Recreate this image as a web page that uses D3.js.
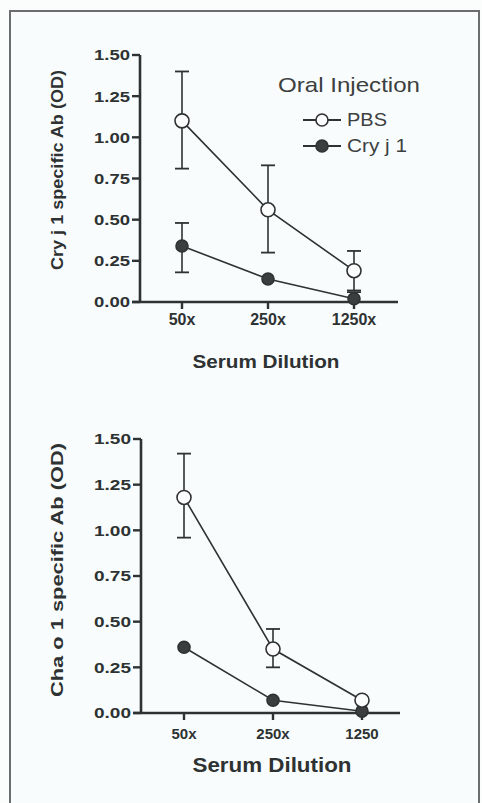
<!DOCTYPE html>
<html><head><meta charset="utf-8">
<script src="https://cdn.jsdelivr.net/npm/d3@7"></script>
<style>
html,body{margin:0;padding:0;background:#fff;}
svg{display:block;}
</style></head>
<body>
<script>
// ---------- data ----------
const categories = ["50x", "250x", "1250x"];
const topTickLabels = ["50x", "250x", "1250x"];
const bottomTickLabels = ["50x", "250x", "1250"];
const yTickValues = [0, 0.25, 0.5, 0.75, 1.0, 1.25, 1.5];
const seriesNames = ["PBS", "Cry j 1"];

const topPBS   = [1.10, 0.56, 0.19];
const topPBSLo = [0.81, 0.30, 0.07];
const topPBSHi = [1.40, 0.83, 0.31];
const topCry   = [0.34, 0.14, 0.02];
const topCryLo = [0.18, null, 0.00];
const topCryHi = [0.48, null, 0.06];

const botPBS   = [1.18, 0.35, 0.07];
const botPBSLo = [0.96, 0.25, null];
const botPBSHi = [1.42, 0.46, null];
const botCry   = [0.36, 0.07, 0.01];
const botCryLo = [null, null, null];
const botCryHi = [null, null, null];

// ---------- drawing ----------
const W = 482, H = 803;
const svg = d3.select("body").append("svg").attr("width", W).attr("height", H);
svg.append("rect").attr("x", 0).attr("y", 0).attr("width", W).attr("height", H).attr("fill", "#fbfdfd");
svg.append("rect").attr("x", 10).attr("y", 11).attr("width", 469).attr("height", 800)
  .attr("fill", "#f8fcfc").attr("stroke", "#6a6e6e").attr("stroke-width", 2);

const FONT = "'Liberation Sans', Arial, Helvetica, sans-serif";
const INK = "#2e3232";

function txt(g, x, y, s, size, len, opts = {}) {
  const t = g.append("text").attr("x", x).attr("y", y).text(s)
    .attr("font-family", FONT).attr("font-size", size)
    .attr("font-weight", opts.weight || "bold")
    .attr("fill", opts.fill || INK)
    .attr("text-anchor", opts.anchor || "middle");
  if (len) t.attr("textLength", len).attr("lengthAdjust", "spacingAndGlyphs");
  if (opts.rotate) t.attr("transform", `rotate(-90 ${x} ${y})`);
  return t;
}

function panel(cfg) {
  const g = svg.append("g");
  const x = d3.scalePoint().domain(categories).range([cfg.cx0, cfg.cx1]);
  const y = d3.scaleLinear().domain([0, 1.5]).range([cfg.yBottom, cfg.yTop]);

  // axes
  g.append("line").attr("x1", cfg.ax).attr("x2", cfg.ax).attr("y1", y(1.5)).attr("y2", y(0))
    .attr("stroke", INK).attr("stroke-width", 2.6);
  g.append("line").attr("x1", cfg.ax - 8).attr("x2", cfg.axEnd).attr("y1", y(0)).attr("y2", y(0))
    .attr("stroke", INK).attr("stroke-width", 2.6);
  yTickValues.forEach(v => {
    g.append("line").attr("x1", cfg.ax - 8).attr("x2", cfg.ax).attr("y1", y(v)).attr("y2", y(v))
      .attr("stroke", INK).attr("stroke-width", 2.4);
    txt(g, cfg.ax - 10, y(v) + cfg.tickFs * 0.36, v.toFixed(2), cfg.tickFs, cfg.yLabW, {anchor: "end"});
  });
  categories.forEach((c, i) => {
    g.append("line").attr("x1", x(c)).attr("x2", x(c)).attr("y1", y(0)).attr("y2", y(0) + 7)
      .attr("stroke", INK).attr("stroke-width", 2.4);
    txt(g, x(c), cfg.xLabY, cfg.xLabels[i], cfg.xTickFs, null);
  });
  txt(g, cfg.titleCx, cfg.titleY, "Serum Dilution", cfg.titleFs, cfg.titleW);
  txt(g, cfg.yTitleX, cfg.yTitleCy, cfg.yTitle, cfg.yTitleFs, cfg.yTitleLen, {rotate: true});

  const line = d3.line().x((d, i) => x(categories[i])).y(d => y(d));
  const series = [
    {vals: cfg.cry, lo: cfg.cryLo, hi: cfg.cryHi, fill: "#3a3e3e", r: 6},
    {vals: cfg.pbs, lo: cfg.pbsLo, hi: cfg.pbsHi, fill: "#fbfdfd", r: 7}
  ];
  series.forEach(s => {
    s.vals.forEach((v, i) => {
      if (s.lo[i] == null) return;
      const cx = x(categories[i]);
      g.append("line").attr("x1", cx).attr("x2", cx).attr("y1", y(s.hi[i])).attr("y2", y(s.lo[i]))
        .attr("stroke", INK).attr("stroke-width", 1.6);
      [s.hi[i], s.lo[i]].forEach(e => g.append("line").attr("x1", cx - 7).attr("x2", cx + 7)
        .attr("y1", y(e)).attr("y2", y(e)).attr("stroke", INK).attr("stroke-width", 1.8));
    });
  });
  series.forEach(s => {
    g.append("path").datum(s.vals).attr("d", line).attr("fill", "none")
      .attr("stroke", INK).attr("stroke-width", 1.6);
    s.vals.forEach((v, i) => g.append("circle").attr("cx", x(categories[i])).attr("cy", y(v))
      .attr("r", s.r).attr("fill", s.fill).attr("stroke", INK).attr("stroke-width", 1.6));
  });
  return g;
}

panel({
  cx0: 182, cx1: 354, yBottom: 302, yTop: 55, ax: 140, axEnd: 398,
  tickFs: 15, yLabW: 36, xTickFs: 16, xLabY: 325, xLabels: topTickLabels,
  titleCx: 266, titleY: 368, titleFs: 18, titleW: 147,
  yTitle: "Cry j 1 specific Ab (OD)", yTitleX: 63, yTitleCy: 170, yTitleFs: 16, yTitleLen: 200,
  pbs: topPBS, pbsLo: topPBSLo, pbsHi: topPBSHi, cry: topCry, cryLo: topCryLo, cryHi: topCryHi
});

panel({
  cx0: 184, cx1: 362, yBottom: 713, yTop: 439, ax: 141, axEnd: 400,
  tickFs: 15, yLabW: 37, xTickFs: 15, xLabY: 739, xLabels: bottomTickLabels,
  titleCx: 272, titleY: 772, titleFs: 20, titleW: 159,
  yTitle: "Cha o 1 specific Ab (OD)", yTitleX: 63, yTitleCy: 570, yTitleFs: 17, yTitleLen: 254,
  pbs: botPBS, pbsLo: botPBSLo, pbsHi: botPBSHi, cry: botCry, cryLo: botCryLo, cryHi: botCryHi
});

// legend
const lg = svg.append("g");
txt(lg, 278, 92, "Oral Injection", 21, 142, {weight: "normal", anchor: "start", fill: "#3c4040"});
seriesNames.forEach((n, i) => {
  const ly = 120 + i * 26;
  lg.append("line").attr("x1", 303).attr("x2", 341).attr("y1", ly).attr("y2", ly)
    .attr("stroke", INK).attr("stroke-width", 1.8);
  lg.append("circle").attr("cx", 322).attr("cy", ly).attr("r", 6)
    .attr("fill", i === 0 ? "#fbfdfd" : "#3a3e3e").attr("stroke", INK).attr("stroke-width", 1.6);
  txt(lg, 347, ly + 6, n, 19, i === 0 ? 40 : 60, {weight: "normal", anchor: "start", fill: "#3c4040"});
});
</script>
</body></html>
